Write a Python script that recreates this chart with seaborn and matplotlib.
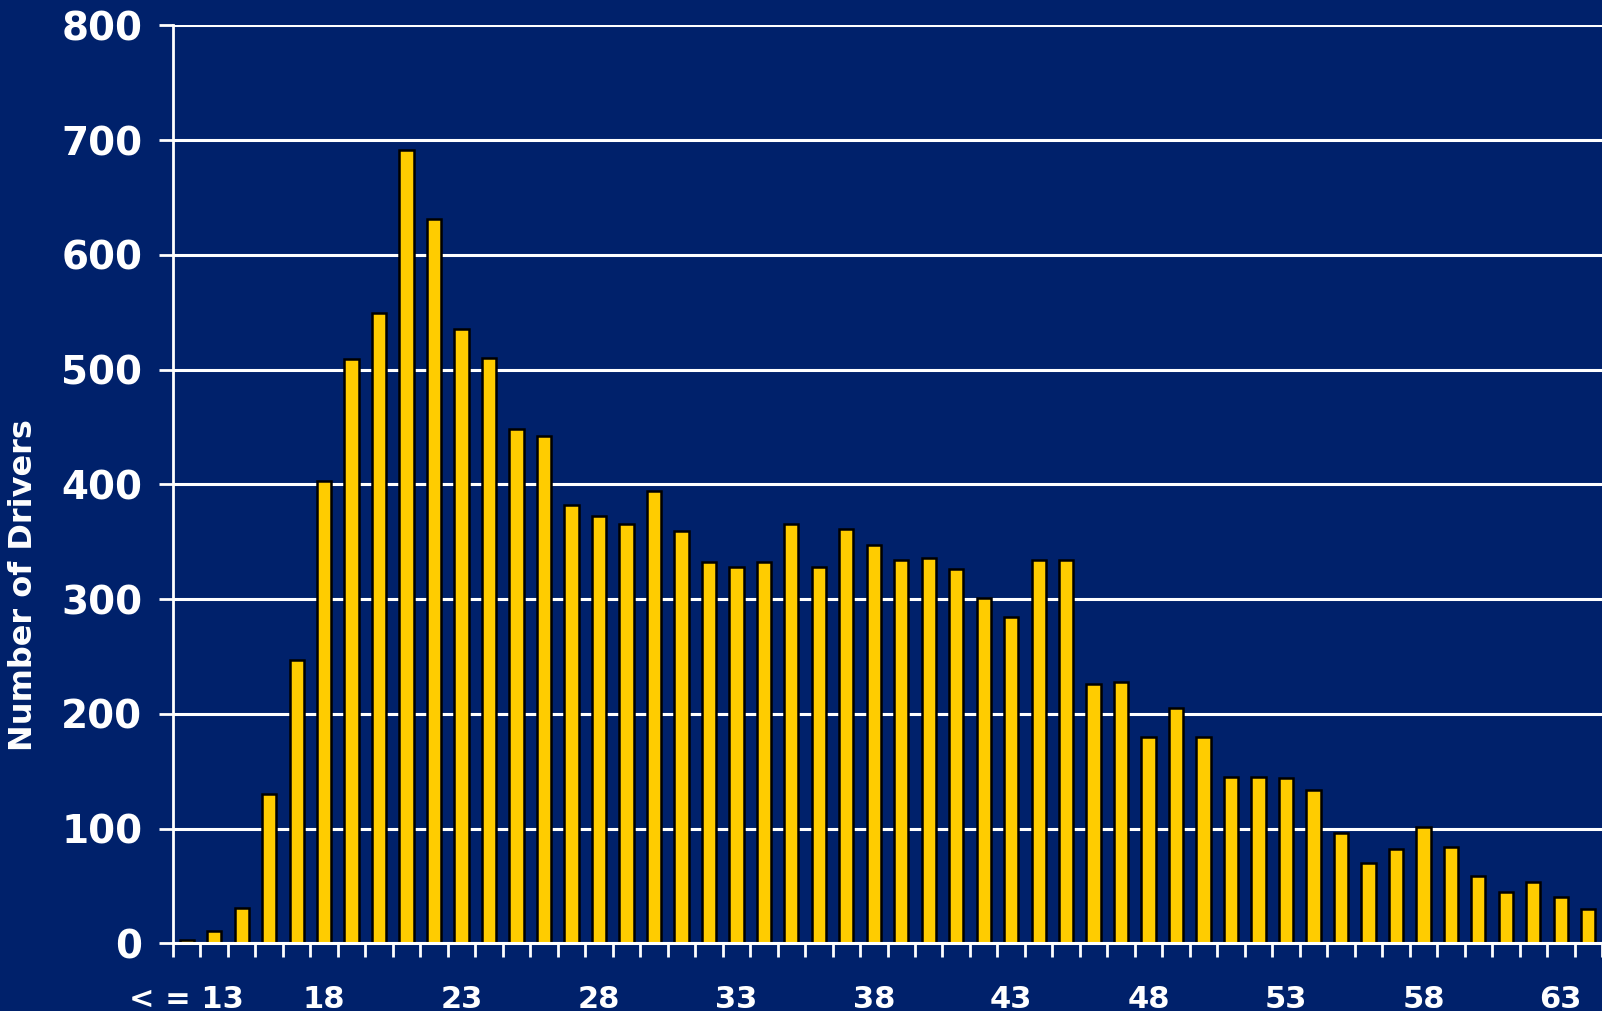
import matplotlib
matplotlib.use("Agg")
import matplotlib.pyplot as plt
import seaborn as sns
import pandas as pd
import numpy as np

# ages 13 (and under) to 64
ages = ["< = 13"] + [str(a) for a in range(14, 65)]
drivers = [3, 11, 31, 130, 247, 403, 509, 549, 691, 631, 535, 510,
           448, 442, 382, 372, 365, 394, 359, 332, 328, 332, 365, 328,
           361, 347, 334, 336, 326, 301, 284, 334, 334, 226, 228, 180,
           205, 180, 145, 145, 144, 134, 96, 70, 82, 101, 84, 59,
           45, 53, 40, 30]
shown_labels = ["< = 13", "18", "23", "28", "33", "38", "43", "48", "53", "58", "63"]
y_ticks = [0, 100, 200, 300, 400, 500, 600, 700, 800]

bg = "#00216B"
sns.set_theme(style="white")
plt.rcParams['font.family'] = ['DejaVu Sans']

df = pd.DataFrame({"age": ages, "drivers": drivers})

fig = plt.figure(figsize=(16.02, 10.11), dpi=100, facecolor=bg)
ax = fig.add_axes([0.108, 0.067, 0.892, 0.908])
ax.set_facecolor(bg)

sns.barplot(data=df, x="age", y="drivers", order=ages, color="#FFCC00",
            saturation=1, edgecolor="black", linewidth=1.8, width=0.52, ax=ax, zorder=3)

ax.set_ylim(0, 800)
ax.set_xlim(-0.5, len(ages) - 0.5)
ax.set_yticks(y_ticks)
ax.set_yticklabels([str(v) for v in y_ticks], fontsize=28, fontweight="bold", color="white")
ax.yaxis.grid(True, color="white", linewidth=2.2, zorder=0)
ax.set_axisbelow(True)

pos = [ages.index(l) for l in shown_labels]
ax.set_xticks(pos)
ax.set_xticklabels(shown_labels, fontsize=22, fontweight="bold", color="white")
ax.set_xticks(np.arange(-0.5, len(ages), 1), minor=True)
ax.tick_params(axis="x", which="major", bottom=True, length=0, pad=30)
ax.tick_params(axis="x", which="minor", bottom=True, length=10, width=2, color="white", direction="out")
ax.tick_params(axis="y", which="major", left=True, length=10, width=2, color="white", direction="out", pad=12)

for s in ["top", "right"]:
    ax.spines[s].set_visible(False)
ax.spines["left"].set_color("white")
ax.spines["left"].set_linewidth(2)
ax.spines["bottom"].set_color("white")
ax.spines["bottom"].set_linewidth(2.2)
ax.spines["bottom"].set_zorder(4)

ax.set_xlabel("")
ax.set_ylabel("Number of Drivers", fontsize=23, fontweight="bold", color="white")
ax.yaxis.set_label_coords(-0.094, 0.39)

fig.savefig("out.png", dpi=100, facecolor=bg)
